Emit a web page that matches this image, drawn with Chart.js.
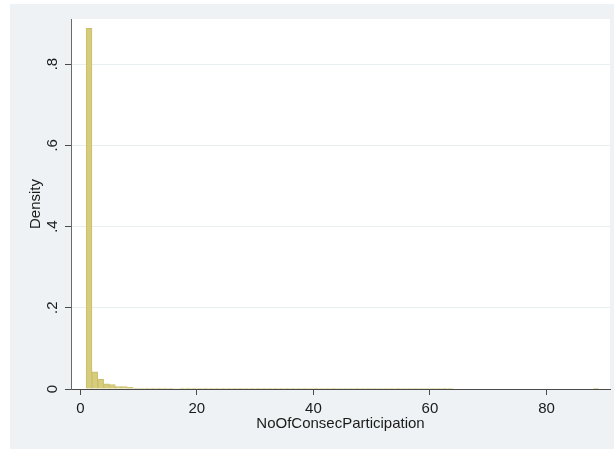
<!DOCTYPE html>
<html>
<head>
<meta charset="utf-8">
<script src="https://cdn.jsdelivr.net/npm/chart.js@4/dist/chart.umd.min.js"></script>
<style>
  html, body { margin: 0; padding: 0; background: #ffffff; }
  #wrap { position: relative; width: 614px; height: 449px; }
  canvas { display: block; }
</style>
</head>
<body>
<div id="wrap"><canvas id="hist" width="614" height="449"></canvas></div>
<script>
// Histogram bins (width 1), given by their midpoints
const binMids = [
  1.5, 2.5, 3.5, 4.5, 5.5, 6.5, 7.5, 8.5, 9.5, 10.5,
  11.5, 12.5, 13.5, 14.5, 15.5, 16.5, 17.5, 18.5, 19.5, 20.5,
  21.5, 22.5, 23.5, 24.5, 25.5, 26.5, 27.5, 28.5, 29.5, 30.5,
  31.5, 32.5, 33.5, 34.5, 35.5, 36.5, 37.5, 38.5, 39.5, 40.5,
  41.5, 42.5, 43.5, 44.5, 45.5, 46.5, 47.5, 48.5, 49.5, 50.5,
  51.5, 52.5, 53.5, 54.5, 55.5, 56.5, 57.5, 58.5, 59.5, 60.5,
  61.5, 62.5, 63.5, 64.5, 65.5, 66.5, 67.5, 68.5, 69.5, 70.5,
  71.5, 72.5, 73.5, 74.5, 75.5, 76.5, 77.5, 78.5, 79.5, 80.5,
  81.5, 82.5, 83.5, 84.5, 85.5, 86.5, 87.5, 88.5
];

// Density for each bin
const density = [
  0.888, 0.042, 0.024, 0.013, 0.011, 0.006, 0.006, 0.004, 0.0025, 0.0025,
  0.002, 0.002, 0.002, 0.002, 0.0015, 0.0012, 0.002, 0.002, 0.002, 0.001,
  0.002, 0.0015, 0.0005, 0.0006, 0.0008, 0.0004, 0.0008, 0.0008, 0.0008, 0.0006,
  0.0003, 0.0003, 0.0006, 0.0007, 0.0005, 0.0003, 0.0002, 0.0003, 0.0002, 0.0003,
  0.0002, 0.0002, 0.0003, 0.0002, 0.0002, 0.0002, 0.0003, 0.0002, 0.0002, 0.0002,
  0.0002, 0.0002, 0.0002, 0.0003, 0.0002, 0.0002, 0.0002, 0.0002, 0.0002, 0.0002,
  0.0002, 0.0003, 0.0002, 0, 0, 0, 0, 0, 0, 0,
  0, 0, 0, 0, 0, 0, 0, 0, 0, 0,
  0, 0, 0, 0, 0, 0, 0, 0.0004
];

const xTicks = [0, 20, 40, 60, 80];
const xTickLabels = ['0', '20', '40', '60', '80'];
const yTicks = [0, 0.2, 0.4, 0.6, 0.8];
const yTickLabels = ['0', '.2', '.4', '.6', '.8'];

const xTitle = 'NoOfConsecParticipation';
const yTitle = 'Density';

const FONT = '"Liberation Sans", Arial, Helvetica, sans-serif';
const TEXT_COLOR = '#1a1a1a';
const AXIS_COLOR = '#4a4a4a';

// Graph region (light grey) and white plot region behind everything
const backgroundPlugin = {
  id: 'regions',
  beforeDraw(chart) {
    const { ctx, chartArea } = chart;
    ctx.save();
    ctx.fillStyle = '#eef2f4';
    ctx.fillRect(10, 4, 604, 445);
    ctx.fillStyle = '#ffffff';
    ctx.fillRect(chartArea.left, chartArea.top,
                 chartArea.right - chartArea.left, chartArea.bottom - chartArea.top);
    ctx.restore();
  }
};

// Vertical y tick labels and axis titles
const labelsPlugin = {
  id: 'stataLabels',
  afterDraw(chart) {
    const { ctx, chartArea } = chart;
    const yScale = chart.scales.y;
    ctx.save();
    ctx.fillStyle = TEXT_COLOR;
    ctx.font = '15px ' + FONT;
    ctx.textAlign = 'center';
    ctx.textBaseline = 'middle';
    yTicks.forEach((v, i) => {
      const py = yScale.getPixelForValue(v);
      ctx.save();
      ctx.translate(53, py);
      ctx.rotate(-Math.PI / 2);
      ctx.fillText(yTickLabels[i], 0, 0);
      ctx.restore();
    });
    const midY = (chartArea.top + chartArea.bottom) / 2;
    ctx.save();
    ctx.translate(36, midY);
    ctx.rotate(-Math.PI / 2);
    ctx.fillText(yTitle, 0, 0);
    ctx.restore();
    const midX = (chartArea.left + chartArea.right) / 2;
    ctx.fillText(xTitle, midX, 424);
    ctx.restore();
  }
};

new Chart(document.getElementById('hist'), {
  type: 'bar',
  data: {
    datasets: [{
      data: binMids.map((x, i) => ({ x: x, y: density[i] })),
      backgroundColor: 'rgb(214,204,124)',
      borderColor: 'rgb(201,190,108)',
      borderWidth: 1,
      borderSkipped: 'bottom',
      barPercentage: 1,
      categoryPercentage: 1
    }]
  },
  options: {
    responsive: false,
    animation: false,
    layout: { padding: { left: 0, right: 4, top: 19, bottom: 0 } },
    plugins: {
      legend: { display: false },
      tooltip: { enabled: false },
      title: { display: false }
    },
    scales: {
      x: {
        type: 'linear',
        offset: false,
        min: -1.6,
        max: 90.9,
        afterBuildTicks(scale) { scale.ticks = xTicks.map(v => ({ value: v })); },
        afterFit(scale) { scale.height = 60; },
        grid: { offset: false, drawOnChartArea: false, drawTicks: true, tickLength: 6, tickColor: AXIS_COLOR, tickWidth: 1 },
        border: { color: AXIS_COLOR, width: 1 },
        ticks: {
          padding: 5,
          maxRotation: 0,
          color: TEXT_COLOR,
          font: { family: FONT, size: 15 },
          callback(value) {
            const i = xTicks.indexOf(value);
            return i >= 0 ? xTickLabels[i] : '';
          }
        }
      },
      y: {
        type: 'linear',
        min: 0,
        max: 0.911,
        afterBuildTicks(scale) { scale.ticks = yTicks.map(v => ({ value: v })); },
        afterFit(scale) { scale.width = 71; },
        grid: { color: '#e8eff1', lineWidth: 1, drawTicks: true, tickLength: 6, tickColor: AXIS_COLOR },
        border: { color: '#6a6a6a', width: 1 },
        ticks: { display: false }
      }
    }
  },
  plugins: [backgroundPlugin, labelsPlugin]
});
</script>
</body>
</html>
